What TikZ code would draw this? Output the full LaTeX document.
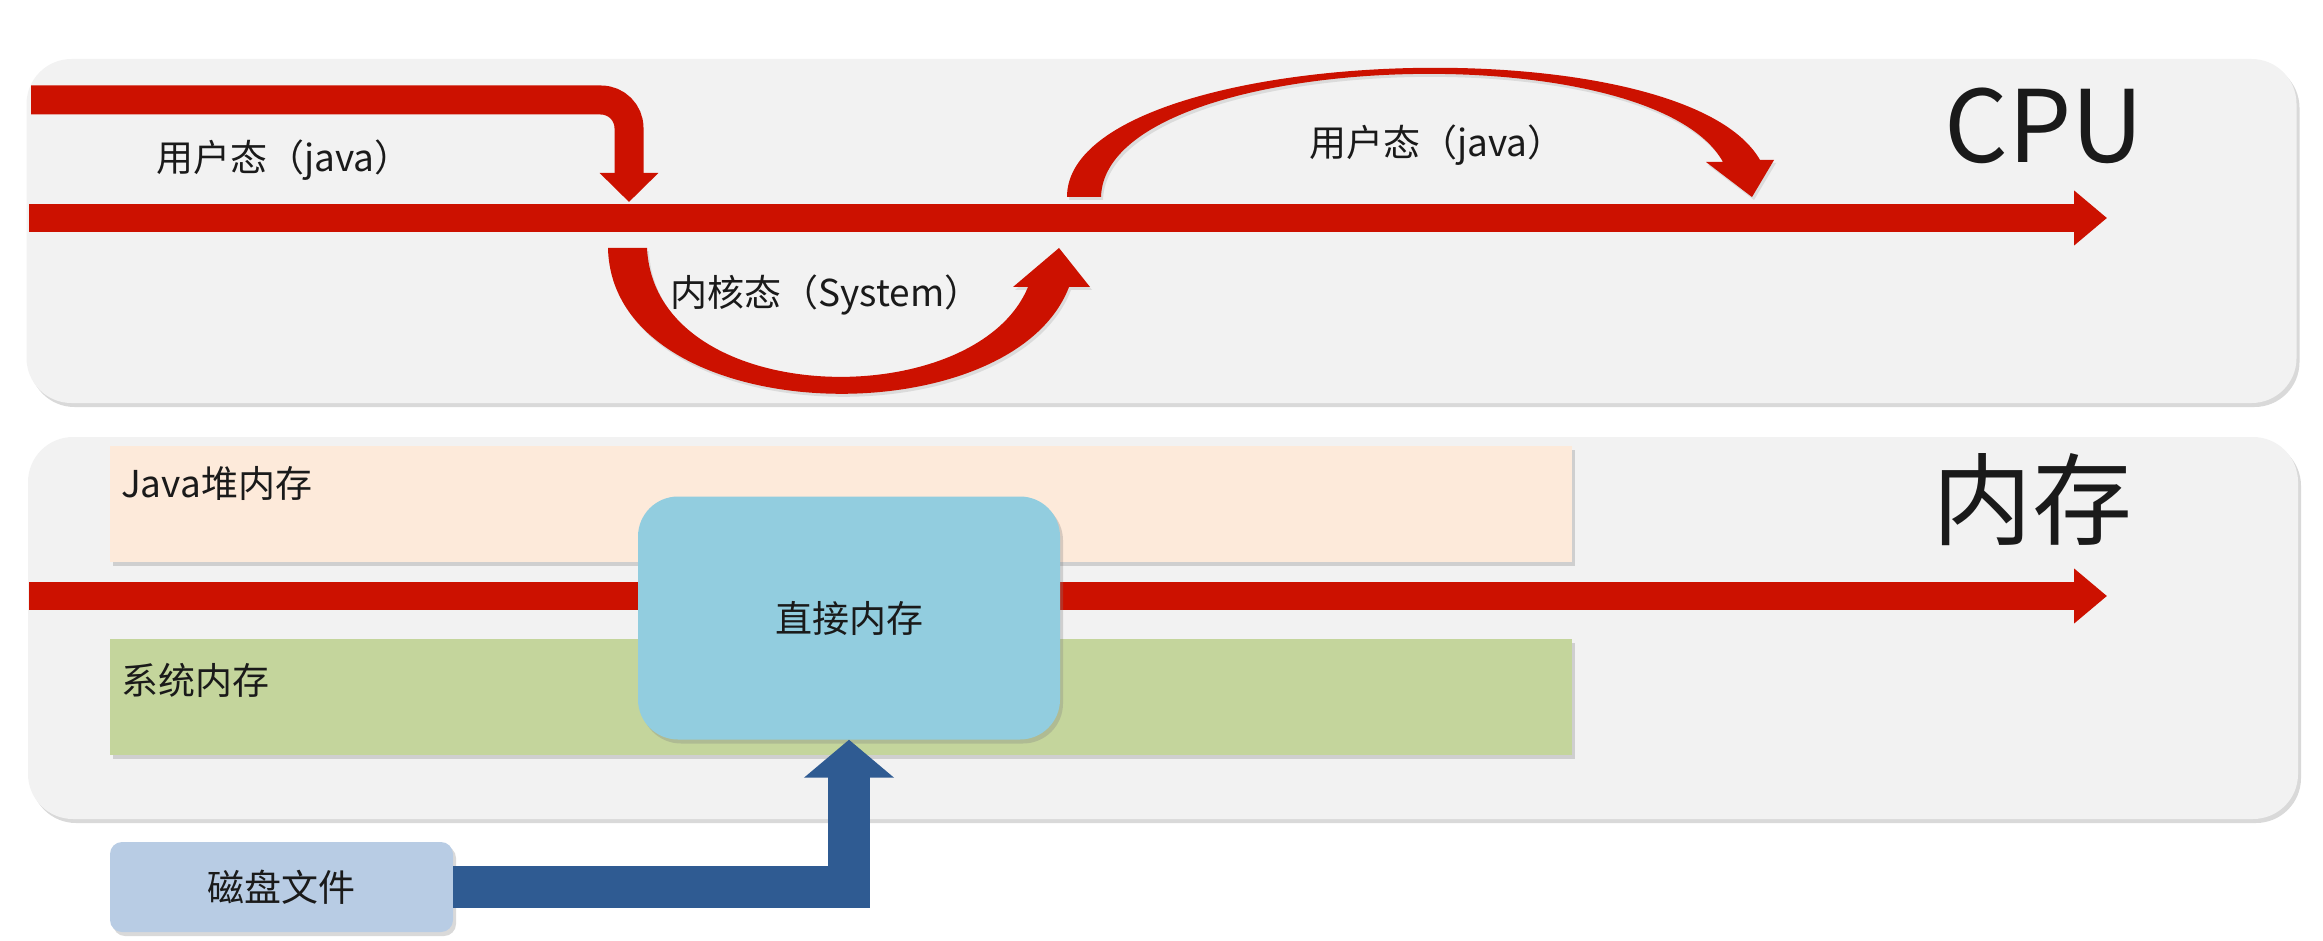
\documentclass[tikz,border=0pt]{standalone}
\usepackage{fontspec}
\newfontfamily\cjk{Noto Sans CJK SC}
\usetikzlibrary{arrows.meta,shadows}
\definecolor{flowred}{HTML}{CC1100}
\definecolor{panelgray}{HTML}{F2F2F2}
\definecolor{heappeach}{HTML}{FDEADA}
\definecolor{sysgreen}{HTML}{C4D59C}
\definecolor{directblue}{HTML}{92CDDF}
\definecolor{diskblue}{HTML}{B8CCE4}
\definecolor{loadblue}{HTML}{2F5B92}
\definecolor{inktext}{HTML}{1A1A1A}

\begin{document}
\begin{tikzpicture}[x=1pt, y=-1pt, font=\cjk\fontsize{37}{44}\selectfont, text=inktext,
  panel/.style={fill=panelgray, rounded corners=45pt, minimum width=2270pt, inner sep=0pt,
    drop shadow={shadow xshift=3pt, shadow yshift=-4pt, opacity=0.3}},
  membar/.style={inner sep=0pt, minimum width=1462pt, minimum height=116pt,
    drop shadow={shadow xshift=3pt, shadow yshift=-4pt, opacity=0.3}},
  bigtitle/.style={font=\cjk\fontsize{100}{110}\selectfont, inner sep=0pt},
  flowband/.style={draw=flowred, line width=28pt, -{Triangle[width=53pt, length=33pt]}},
  arcband/.style={fill=flowred, drop shadow={shadow xshift=2pt, shadow yshift=-3pt, opacity=0.2}}]
  \useasboundingbox (0,0) rectangle (2323,941);

  % two panels
  \node[panel, minimum height=344pt] (cpupanel) at (1161.5,231) {};
  \node[panel, minimum height=382pt] (mempanel) at (1163,628) {};
  \node[bigtitle] (cputitle) at (2044,126) {CPU};
  \node[bigtitle] (memtitle) at (2032,500) {内存};

  % CPU: user / kernel switches
  \coordinate (mainstart) at (29,218);
  \coordinate (mainend) at (2107,218);
  \coordinate (userstart) at (31,100);
  \coordinate (userdown) at (629,202);
  \draw[flowband] (mainstart) -- (mainend);
  \draw[draw=flowred, line width=29pt, rounded corners=28pt, -{Triangle[width=57pt, length=29pt]}]
    (userstart) -| (userdown);
  % kernel arc, thin at the bottom
  \path[arcband] (608,248) .. controls (612,430) and (1010,440) .. (1069,287)
    -- (1090,287) -- (1059,248) -- (1013,287) -- (1028,287)
    .. controls (975,415) and (655,410) .. (647,248) -- cycle;
  % user arc, thin at the top
  \path[arcband] (1067,197) .. controls (1067,45) and (1680,20) .. (1760,160)
    -- (1774,160) -- (1752,197) -- (1706,162) -- (1723,162)
    .. controls (1650,30) and (1105,50) .. (1101,197) -- cycle;
  \node (userleft) at (284,160) {用户态（java）};
  \node (kernel) at (826,295) {内核态（System）};
  \node (userright) at (1437,145) {用户态（java）};

  % memory
  \node[membar, fill=heappeach] (heap) at (841,504) {};
  \node[membar, fill=sysgreen] (sysmem) at (841,697) {};
  \node[anchor=west, inner sep=0pt] (heaplabel) at (121,483) {Java堆内存};
  \node[anchor=west, inner sep=0pt] (syslabel) at (121,680) {系统内存};
  \coordinate (memstart) at (29,596);
  \coordinate (memend) at (2107,596);
  \draw[flowband] (memstart) -- (memend);
  \node[fill=directblue, rounded corners=40pt, minimum width=422pt, minimum height=243pt,
    drop shadow={shadow xshift=3pt, shadow yshift=-4pt, opacity=0.3}] (direct) at (849,618) {直接内存};

  % disk file
  \node[fill=diskblue, rounded corners=12pt, minimum width=343pt, minimum height=90pt,
    drop shadow={shadow xshift=3pt, shadow yshift=-4pt, opacity=0.3}] (disk) at (281.5,887) {磁盘文件};
  \draw[draw=loadblue, line width=42pt, -{Triangle[width=88pt, length=38pt]}]
    (disk.east) -| (direct.south);
\end{tikzpicture}
\end{document}
